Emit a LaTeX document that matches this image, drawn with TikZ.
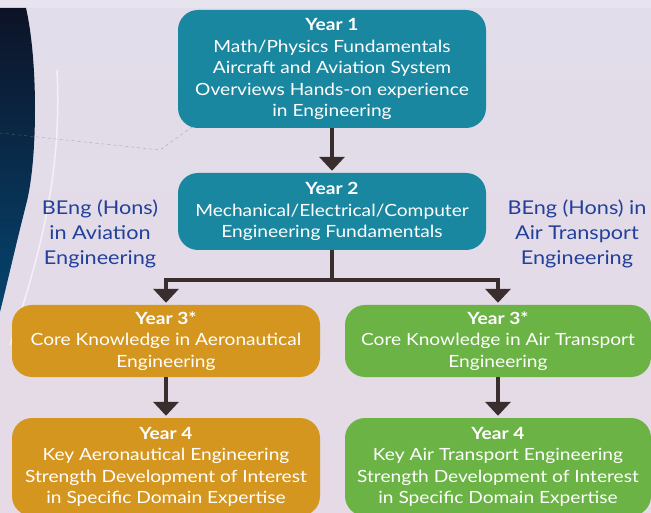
\documentclass[tikz,border=0pt]{standalone}
\usepackage{fontspec}
\setmainfont{Lato}[FakeStretch=1.14]
\usetikzlibrary{arrows.meta}

\definecolor{paperTop}{HTML}{E1DDEA}
\definecolor{paperLow}{HTML}{E6DAE6}
\definecolor{topStrip}{HTML}{E7E4F0}
\definecolor{navyHigh}{HTML}{0D1327}
\definecolor{navyLow}{HTML}{05446F}
\definecolor{yearTeal}{HTML}{1A87A0}
\definecolor{yearGold}{HTML}{D4961F}
\definecolor{yearGreen}{HTML}{6AB344}
\definecolor{flowBrown}{HTML}{3A2D2D}
\definecolor{degreeBlue}{HTML}{22409A}

\begin{document}
\begin{tikzpicture}[x=1pt,y=-1pt]
    \tikzstyle{yearbox}=[rounded corners=20pt,minimum width=308pt,inner sep=4pt,text=white,align=center,font=\fontsize{16.8}{21.5}\selectfont]
    \tikzstyle{flow}=[draw=flowBrown,line width=3.5pt,shorten >=2pt,-{Triangle[width=25pt,length=14pt]}]
    \tikzstyle{degree}=[text=degreeBlue,align=center,font=\fontsize{19}{25}\selectfont]

    \useasboundingbox (0,0) rectangle (651,513);
    \clip (0,0) rectangle (651,513);

    % backdrop
    \shade[top color=paperTop,bottom color=paperLow] (0,0) rectangle (651,513);
    \fill[topStrip] (0,0) rectangle (651,8);
    \shade[top color=navyHigh,bottom color=navyLow] (0,8) -- (26,8) .. controls (38,60) and (38,160) .. (26,205) .. controls (17,240) and (8,280) .. (0,312) -- cycle;
    \draw[white,opacity=0.6,line width=1.5pt] (57,70) .. controls (62,170) and (42,250) .. (10,345);
    \draw[gray,opacity=0.6,line width=0.4pt,dashed] (0,133) -- (160,150) -- (192,127);

    % years
    \node[yearbox,fill=yearTeal,minimum height=118pt] at (332,69) (y1) {\textbf{Year 1}\\Math/Physics Fundamentals\\Aircraft and Aviation System\\Overviews Hands-on experience\\in Engineering};
    \node[yearbox,fill=yearTeal,minimum height=77pt] at (332,211.5) (y2) {\textbf{Year 2}\\Mechanical/Electrical/Computer\\Engineering Fundamentals};
    \node[yearbox,fill=yearGold,minimum height=72pt] at (166,341) (y3a) {\textbf{Year 3*}\\Core Knowledge in Aeronautical\\Engineering};
    \node[yearbox,fill=yearGreen,minimum height=72pt,minimum width=306pt] at (498,341) (y3b) {\textbf{Year 3*}\\Core Knowledge in Air Transport\\Engineering};
    \node[yearbox,fill=yearGold,minimum height=98pt] at (166,467) (y4a) {\textbf{Year 4}\\Key Aeronautical Engineering\\Strength Development of Interest\\in Specific Domain Expertise};
    \node[yearbox,fill=yearGreen,minimum height=98pt,minimum width=306pt] at (498,467) (y4b) {\textbf{Year 4}\\Key Air Transport Engineering\\Strength Development of Interest\\in Specific Domain Expertise};

    % degree names
    \node[degree] at (100,234) (avi) {BEng (Hons)\\in Aviation\\Engineering};
    \node[degree] at (577,234) (atr) {BEng (Hons) in\\Air Transport\\Engineering};

    \coordinate (split) at (332,280);
    \draw[flow] (y1) -- (y2);
    \draw[draw=flowBrown,line width=3.5pt] (y2) -- (split);
    \draw[flow] (split) -| (y3a);
    \draw[flow] (split) -| (y3b);
    \draw[flow] (y3a) -- (y4a);
    \draw[flow] (y3b) -- (y4b);
\end{tikzpicture}
\end{document}
